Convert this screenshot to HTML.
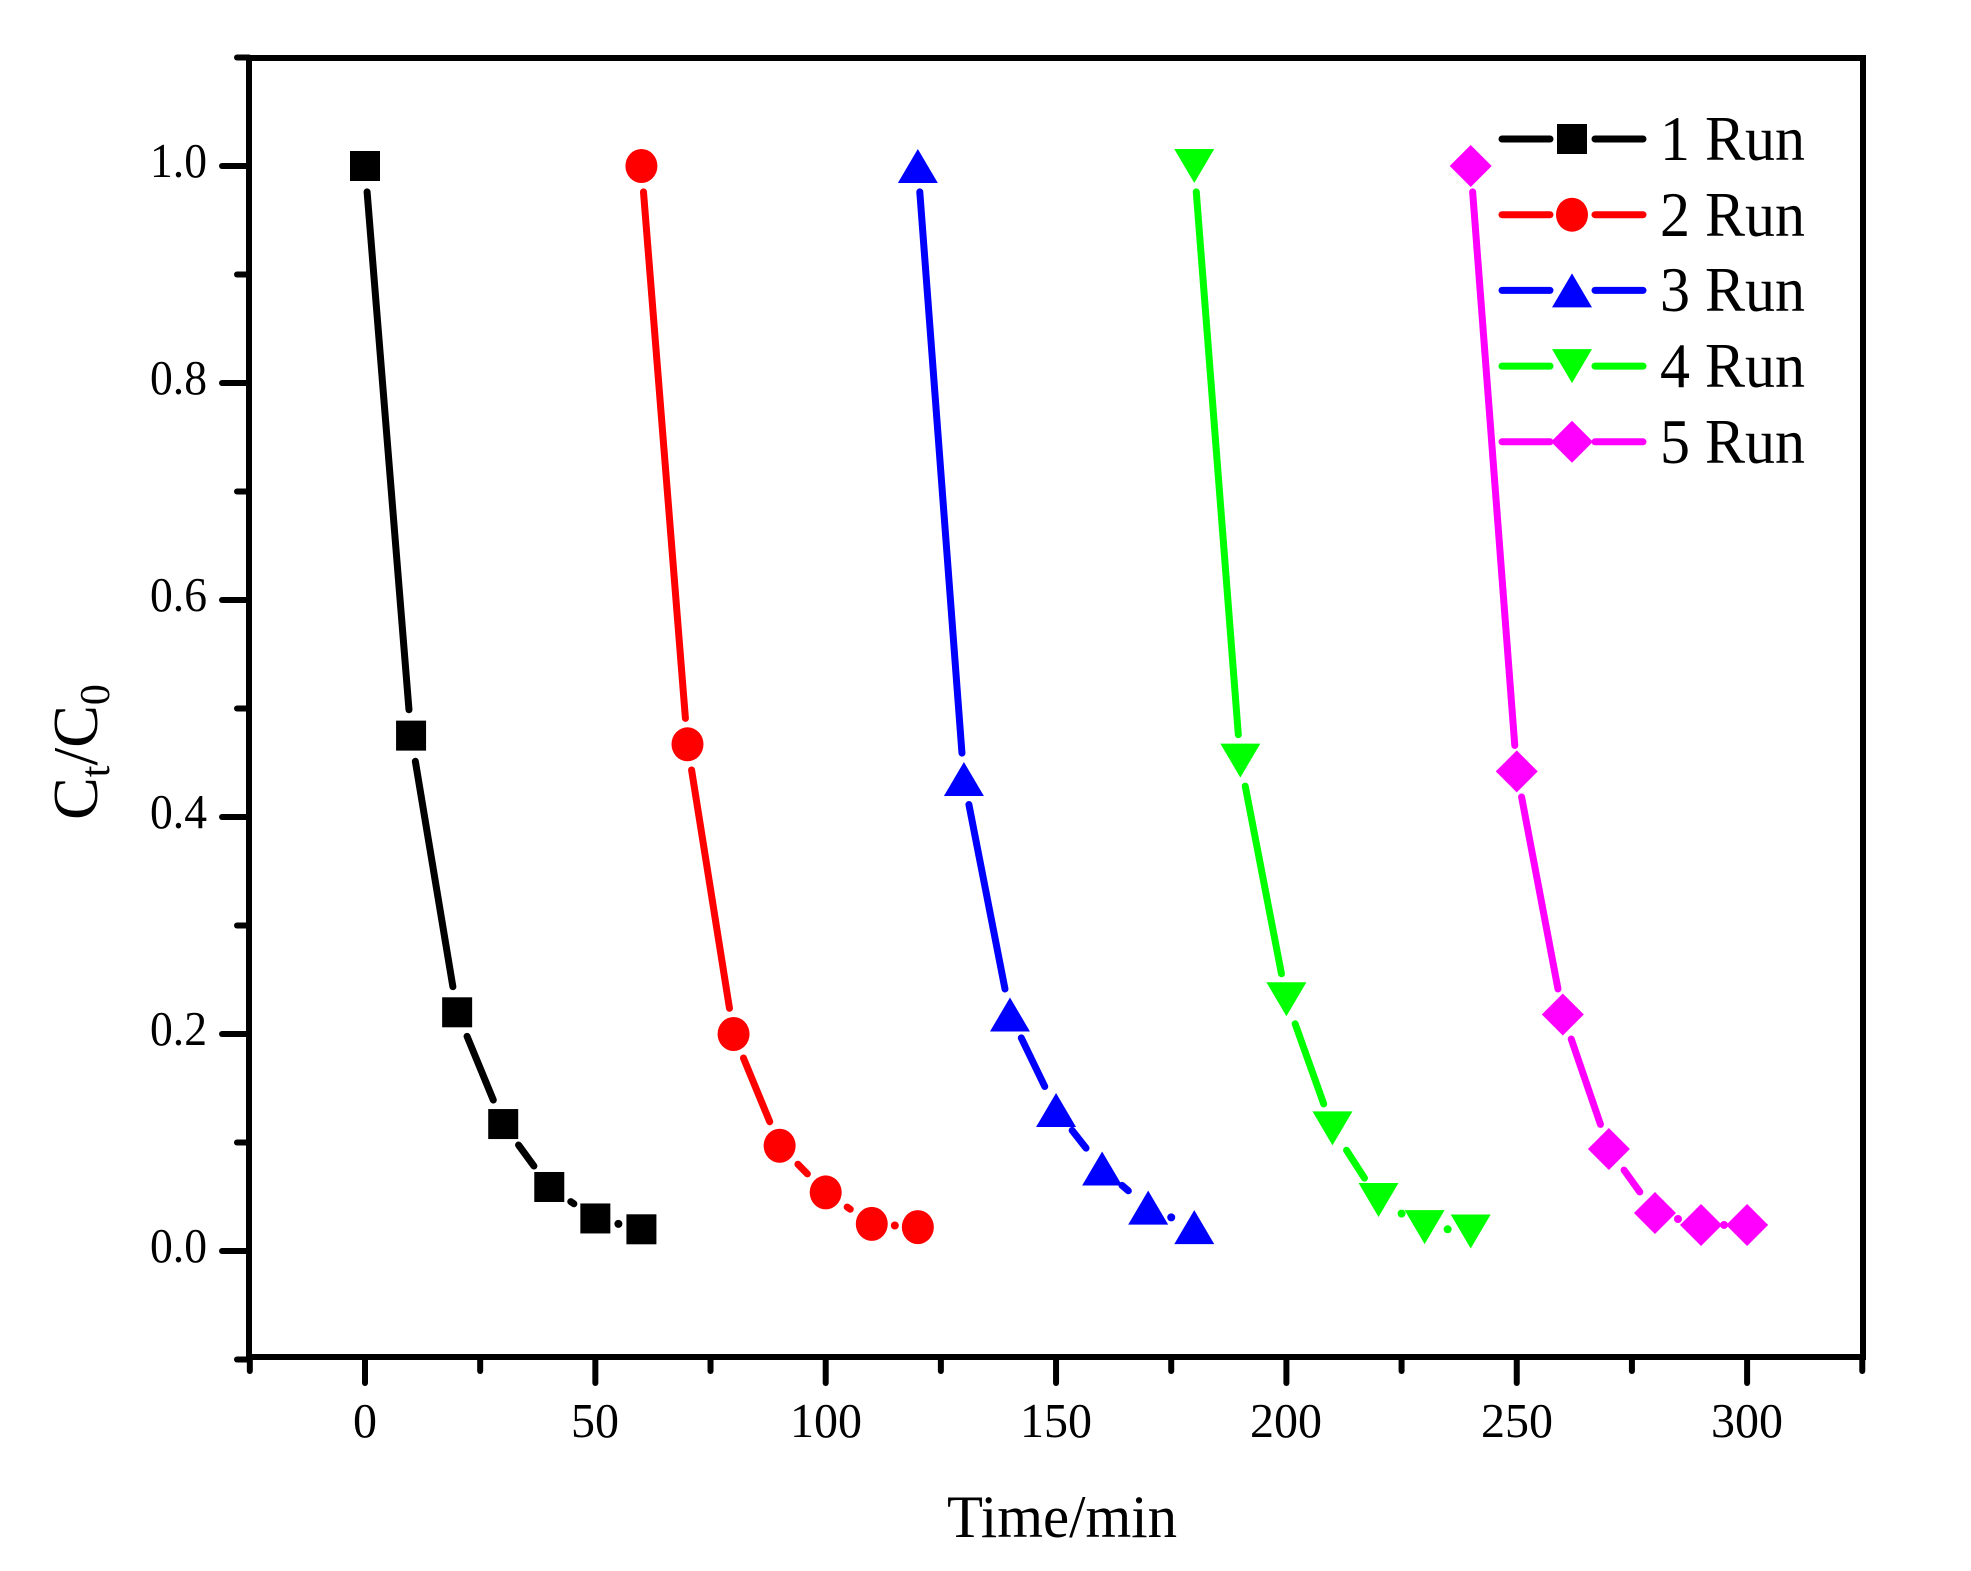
<!DOCTYPE html>
<html><head><meta charset="utf-8"><style>
html,body{margin:0;padding:0;background:#fff;}
svg{display:block;}
text{font-family:"Liberation Serif","Times New Roman",serif;fill:#000;}
</style></head><body>
<svg id="s" width="1971" height="1571" viewBox="0 0 1971 1571" xmlns="http://www.w3.org/2000/svg">
<rect width="1971" height="1571" fill="#fff"/>
<g id="ax"></g>
<g id="ser"></g>
<g font-size="49" lengthAdjust="spacingAndGlyphs">
<text x="207" y="1262" text-anchor="end" textLength="57" lengthAdjust="spacingAndGlyphs">0.0</text>
<text x="207" y="1045" text-anchor="end" textLength="57" lengthAdjust="spacingAndGlyphs">0.2</text>
<text x="207" y="828" text-anchor="end" textLength="57" lengthAdjust="spacingAndGlyphs">0.4</text>
<text x="207" y="611" text-anchor="end" textLength="57" lengthAdjust="spacingAndGlyphs">0.6</text>
<text x="207" y="394" text-anchor="end" textLength="57" lengthAdjust="spacingAndGlyphs">0.8</text>
<text x="207" y="177" text-anchor="end" textLength="57" lengthAdjust="spacingAndGlyphs">1.0</text>
<text x="365" y="1437" text-anchor="middle" textLength="24" lengthAdjust="spacingAndGlyphs">0</text>
<text x="595" y="1437" text-anchor="middle" textLength="48" lengthAdjust="spacingAndGlyphs">50</text>
<text x="826" y="1437" text-anchor="middle" textLength="72" lengthAdjust="spacingAndGlyphs">100</text>
<text x="1056" y="1437" text-anchor="middle" textLength="72" lengthAdjust="spacingAndGlyphs">150</text>
<text x="1286" y="1437" text-anchor="middle" textLength="72" lengthAdjust="spacingAndGlyphs">200</text>
<text x="1517" y="1437" text-anchor="middle" textLength="72" lengthAdjust="spacingAndGlyphs">250</text>
<text x="1747" y="1437" text-anchor="middle" textLength="72" lengthAdjust="spacingAndGlyphs">300</text>
</g>
<text x="1062" y="1537" font-size="60" text-anchor="middle" textLength="230" lengthAdjust="spacingAndGlyphs">Time/min</text>
<text transform="translate(97,752) rotate(-90)" font-size="64" text-anchor="middle">C<tspan font-size="42" dy="12">t</tspan><tspan dy="-12">/C</tspan><tspan font-size="42" dy="12">0</tspan></text>
<g font-size="63">
<text x="1660" y="160" textLength="145" lengthAdjust="spacingAndGlyphs">1 Run</text>
<text x="1660" y="236" textLength="145" lengthAdjust="spacingAndGlyphs">2 Run</text>
<text x="1660" y="311" textLength="145" lengthAdjust="spacingAndGlyphs">3 Run</text>
<text x="1660" y="387" textLength="145" lengthAdjust="spacingAndGlyphs">4 Run</text>
<text x="1660" y="463" textLength="145" lengthAdjust="spacingAndGlyphs">5 Run</text>
</g>
</svg>
<script>
var NS="http://www.w3.org/2000/svg";
function X(v){return 365+v*4.607;}
function Y(v){return 166+(1-v)*1085;}
function el(p,t,a){var e=document.createElementNS(NS,t);for(var k in a)e.setAttribute(k,a[k]);p.appendChild(e);return e;}
var ax=document.getElementById('ax');
el(ax,'rect',{x:249,y:58,width:1614,height:1299,fill:'none',stroke:'#000','stroke-width':6});
for(var v=-25;v<=325;v+=25){var x=X(v);var maj=(v%50==0&&v>=0&&v<=300);el(ax,'line',{x1:x,y1:1357,x2:x,y2:maj?1383:1371,stroke:'#000','stroke-width':6,'stroke-linecap':'round'});}
for(var i=-1;i<=11;i++){var vv=i/10;var y=Y(vv);var maj=(i%2==0&&i>=0&&i<=10);el(ax,'line',{x1:249,y1:y,x2:maj?222:237,y2:y,stroke:'#000','stroke-width':6,'stroke-linecap':'round'});}
var data=[
{c:'#000',m:'sq',x0:0,y:[1,0.475,0.22,0.117,0.059,0.03,0.02]},
{c:'#f00',m:'ci',x0:60,y:[1,0.467,0.2,0.097,0.054,0.025,0.022]},
{c:'#00f',m:'tu',x0:120,y:[1,0.435,0.218,0.13,0.076,0.04,0.022]},
{c:'#0f0',m:'td',x0:180,y:[1,0.452,0.232,0.113,0.047,0.022,0.018]},
{c:'#f0f',m:'di',x0:240,y:[1,0.442,0.218,0.094,0.035,0.024,0.024]}];
var ser=document.getElementById('ser');
function marker(g,m,cx,cy,c){
 if(m=='sq')el(g,'rect',{x:cx-15,y:cy-15,width:30,height:30,fill:c});
 else if(m=='ci')el(g,'ellipse',{cx:cx,cy:cy,rx:16,ry:17,fill:c});
 else if(m=='tu')el(g,'polygon',{points:(cx-20)+','+(cy+17)+' '+(cx+20)+','+(cy+17)+' '+cx+','+(cy-17),fill:c});
 else if(m=='td')el(g,'polygon',{points:(cx-20)+','+(cy-17)+' '+(cx+20)+','+(cy-17)+' '+cx+','+(cy+17),fill:c});
 else el(g,'polygon',{points:cx+','+(cy-21)+' '+(cx+21)+','+cy+' '+cx+','+(cy+21)+' '+(cx-21)+','+cy,fill:c});
}
data.forEach(function(s,si){
 var pts=s.y.map(function(v,i){return [X(s.x0+10*i),Y(v)];});
 for(var i=0;i<pts.length-1;i++){
  var a=pts[i],b=pts[i+1],dx=b[0]-a[0],dy=b[1]-a[1],L=Math.hypot(dx,dy),g=26;
  if(L>2*g+2){el(ser,'line',{x1:a[0]+dx/L*g,y1:a[1]+dy/L*g,x2:b[0]-dx/L*g,y2:b[1]-dy/L*g,stroke:s.c,'stroke-width':7,'stroke-linecap':'round'});}
  else{el(ser,'circle',{cx:(a[0]+b[0])/2,cy:(a[1]+b[1])/2,r:4,fill:s.c});}
 }
 pts.forEach(function(p){marker(ser,s.m,p[0],p[1],s.c);});
 var ly=139+si*75.7;
 el(ser,'line',{x1:1502,y1:ly,x2:1550,y2:ly,stroke:s.c,'stroke-width':7,'stroke-linecap':'round'});
 el(ser,'line',{x1:1595,y1:ly,x2:1643,y2:ly,stroke:s.c,'stroke-width':7,'stroke-linecap':'round'});
 marker(ser,s.m,1572,ly,s.c);
});
</script>
</body></html>
